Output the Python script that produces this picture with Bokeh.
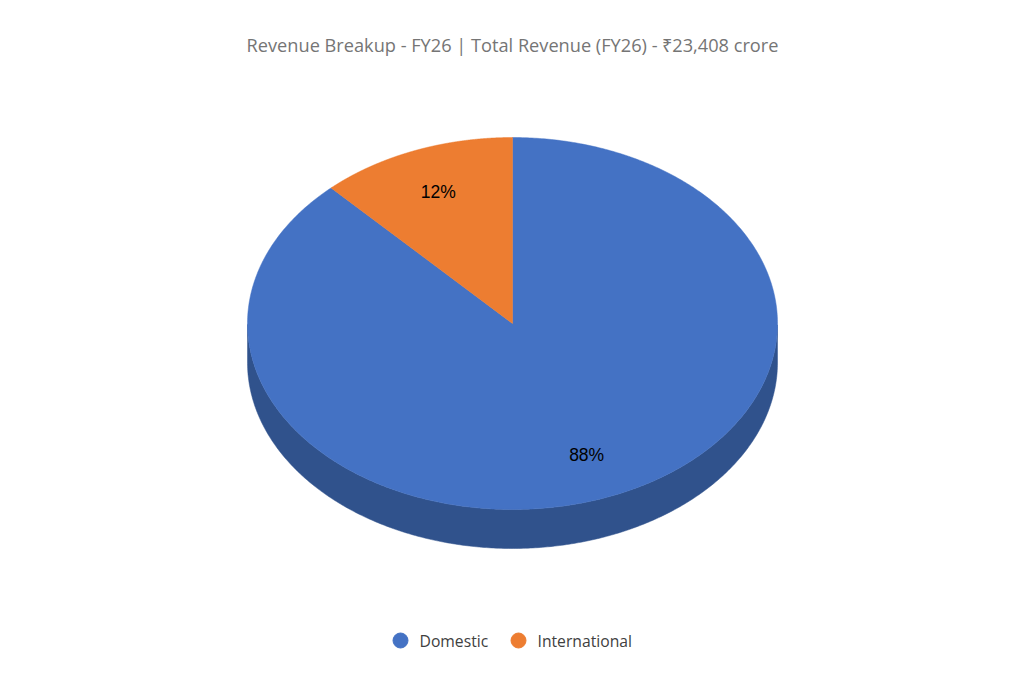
import numpy as np
from bokeh.plotting import figure
from bokeh.models import Range1d
from bokeh.core.properties import value
from bokeh.embed import file_html
from bokeh.resources import INLINE

# ---- data ----
TITLE = "Revenue Breakup - FY26 | Total Revenue (FY26) - \u20b923,408 crore"
categories = ["Domestic", "International"]
shares = [88, 12]  # percent of total revenue
top_colors = ["#4472C4", "#ED7D31"]
side_colors = ["#30528C", "#B35D22"]

# ---- layout (figure pixel space) ----
W, H = 1008, 668
CX, CY = 512, 345        # pie centre
RX, RY = 265, 186        # ellipse radii of top face
DEPTH = 39               # thickness of the 3D side
LABEL_K = 0.76           # label distance as fraction of radius

p = figure(width=W, height=H, output_backend="svg", toolbar_location=None,
           x_range=Range1d(0, W), y_range=Range1d(0, H), min_border=0,
           outline_line_color=None)
p.axis.visible = False
p.grid.visible = False
p.background_fill_color = "white"
p.border_fill_color = "white"

total = float(sum(shares))
# slices start at 12 o'clock and run clockwise
starts, ends = [], []
a = np.pi / 2
for s in shares:
    sweep = 2 * np.pi * s / total
    starts.append(a)
    ends.append(a - sweep)
    a -= sweep

# sides (front half only)
side_xs, side_ys, side_fc = [], [], []
for a0, a1, c in zip(starts, ends, side_colors):
    t = np.linspace(a0, a1, 600)
    t = t[np.sin(t) <= 0]
    if len(t) < 2:
        continue
    tx = CX + RX * np.cos(t)
    ty = CY + RY * np.sin(t)
    side_xs.append(list(tx) + list(tx[::-1]))
    side_ys.append(list(ty) + list((ty - DEPTH)[::-1]))
    side_fc.append(c)
p.patches(side_xs, side_ys, fill_color=side_fc, line_color=side_fc, line_width=0.5)

# top faces
top_xs, top_ys = [], []
for a0, a1 in zip(starts, ends):
    t = np.linspace(a0, a1, 600)
    top_xs.append([CX] + list(CX + RX * np.cos(t)))
    top_ys.append([CY] + list(CY + RY * np.sin(t)))
p.patches(top_xs, top_ys, fill_color=top_colors, line_color=top_colors, line_width=0.5)

# percentage labels
mids = [(a0 + a1) / 2 for a0, a1 in zip(starts, ends)]
lx = [CX + LABEL_K * RX * np.cos(m) for m in mids]
ly = [CY + LABEL_K * RY * np.sin(m) for m in mids]
p.text(x=lx, y=ly, text=[f"{s:.0f}%" for s in shares], text_align="center",
       text_baseline="middle", text_font=value("Liberation Sans"),
       text_font_size="17.5px", text_color="#000000")

# title
p.text(x=[CX], y=[H - 44], text=[TITLE], text_align="center",
       text_baseline="middle", text_font=value("Open Sans"),
       text_font_size="18.2px", text_color="#757575")

# legend
LEG_Y = H - 640
leg_dot_x = [400, 518]
p.scatter(x=leg_dot_x, y=[LEG_Y] * len(categories), size=15, marker="circle",
          fill_color=top_colors, line_color=top_colors)
p.text(x=[x + 19 for x in leg_dot_x], y=[LEG_Y] * len(categories), text=categories,
       text_align="left", text_baseline="middle", text_font=value("Open Sans"),
       text_font_size="15.7px", text_color="#404040")

open("out.html", "w").write(file_html(p, INLINE))
